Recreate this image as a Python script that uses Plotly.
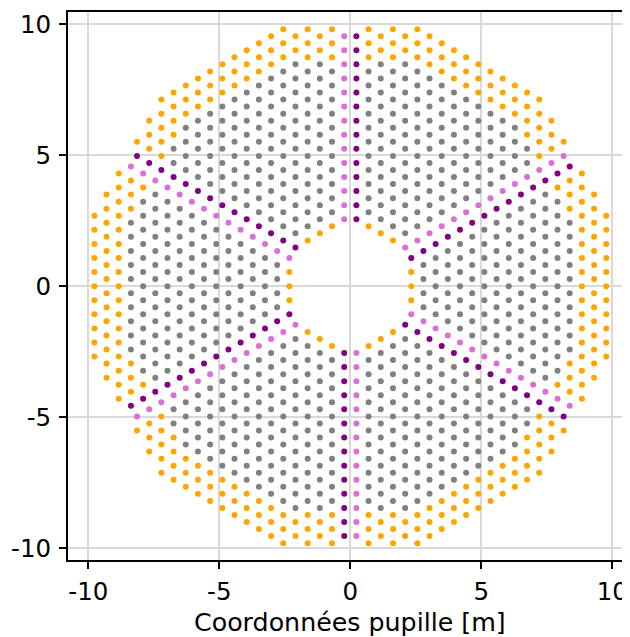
import numpy as np
import plotly.graph_objects as go

# ---------------- data ----------------
# Pupil sampling: hexagonal grid in 6 sectors separated by spider arms
column_pitch_m = 0.4652                      # spacing between sample columns
spider_angles_deg = [30, 90, 150, 210, 270, 330]
outer_radius_m = 10.135                      # outer pupil limit
outer_radius_spider_m = 10.0                 # outer limit for spider-adjacent samples
inner_radius_m = 2.2                         # central obstruction
outer_edge_start_m = 8.735                   # samples beyond this radius are "edge"
inner_edge_end_m = 2.6                       # samples inside this radius are "edge"

categories = ["interior", "edge", "spider_cw", "spider_ccw"]
category_colors = ["gray", "orange", "purple", "orchid"]

tick_values = [-10, -5, 0, 5, 10]
tick_labels = ["-10", "-5", "0", "5", "10"]
axis_label = "Coordonnées pupille [m]"

# ---------------- build sample positions ----------------
a = column_pitch_m * 2.0 / np.sqrt(3.0)
xs = {c: [] for c in categories}
ys = {c: [] for c in categories}


def unit(deg):
    t = np.deg2rad(deg)
    return np.array([np.cos(t), np.sin(t)])


for sp in spider_angles_deg:
    center = sp + 30.0
    e_cw = unit(center - 30.0)
    e_ccw = unit(center + 30.0)
    origin = column_pitch_m * unit(center)
    for i in range(30):
        for j in range(30):
            p = origin + i * a * e_cw + j * a * e_ccw
            r = float(np.hypot(p[0], p[1]))
            on_spider = (i == 0) or (j == 0)
            r_max = outer_radius_spider_m if on_spider else outer_radius_m
            if not (inner_radius_m < r < r_max):
                continue
            if j == 0:
                cat = "spider_ccw"
            elif i == 0:
                cat = "spider_cw"
            elif r > outer_edge_start_m or r < inner_edge_end_m:
                cat = "edge"
            else:
                cat = "interior"
            xs[cat].append(p[0])
            ys[cat].append(p[1])

# ---------------- figure ----------------
fig = go.Figure()
for cat, col in zip(categories, category_colors):
    fig.add_trace(go.Scatter(
        x=xs[cat], y=ys[cat], mode="markers",
        marker=dict(color=col, size=6, line=dict(width=0)),
        name=cat, showlegend=False, hoverinfo="skip",
    ))

tick_font = dict(family="DejaVu Sans", size=24.5, color="black")
label_font = dict(family="DejaVu Sans", size=25.3, color="black")
axis_common = dict(
    showgrid=True, gridcolor="#d9d9d9", gridwidth=1.5,
    zeroline=False, automargin=False,
    showline=True, linecolor="black", linewidth=2,
    ticks="outside", ticklen=7, tickwidth=2, tickcolor="black",
    tickvals=tick_values, ticktext=tick_labels,
    tickfont=tick_font,
)

# the page places the figure 8 px from the window's top-left corner
fig.update_layout(
    width=622, height=629,
    margin=dict(l=60, r=0, t=4, b=77),
    paper_bgcolor="white", plot_bgcolor="white",
    xaxis=dict(range=[-10.775, 10.675], mirror=True, ticklabelstandoff=2,
               **axis_common),
    yaxis=dict(range=[-10.447, 10.458], mirror=False, ticklabelstandoff=3,
               **axis_common),
    font=tick_font,
    annotations=[dict(
        text=axis_label, font=label_font, showarrow=False,
        xref="paper", yref="paper", x=0.5018, y=-0.1141,
        xanchor="center", yanchor="middle",
    )],
)

fig.write_html("out.html")
